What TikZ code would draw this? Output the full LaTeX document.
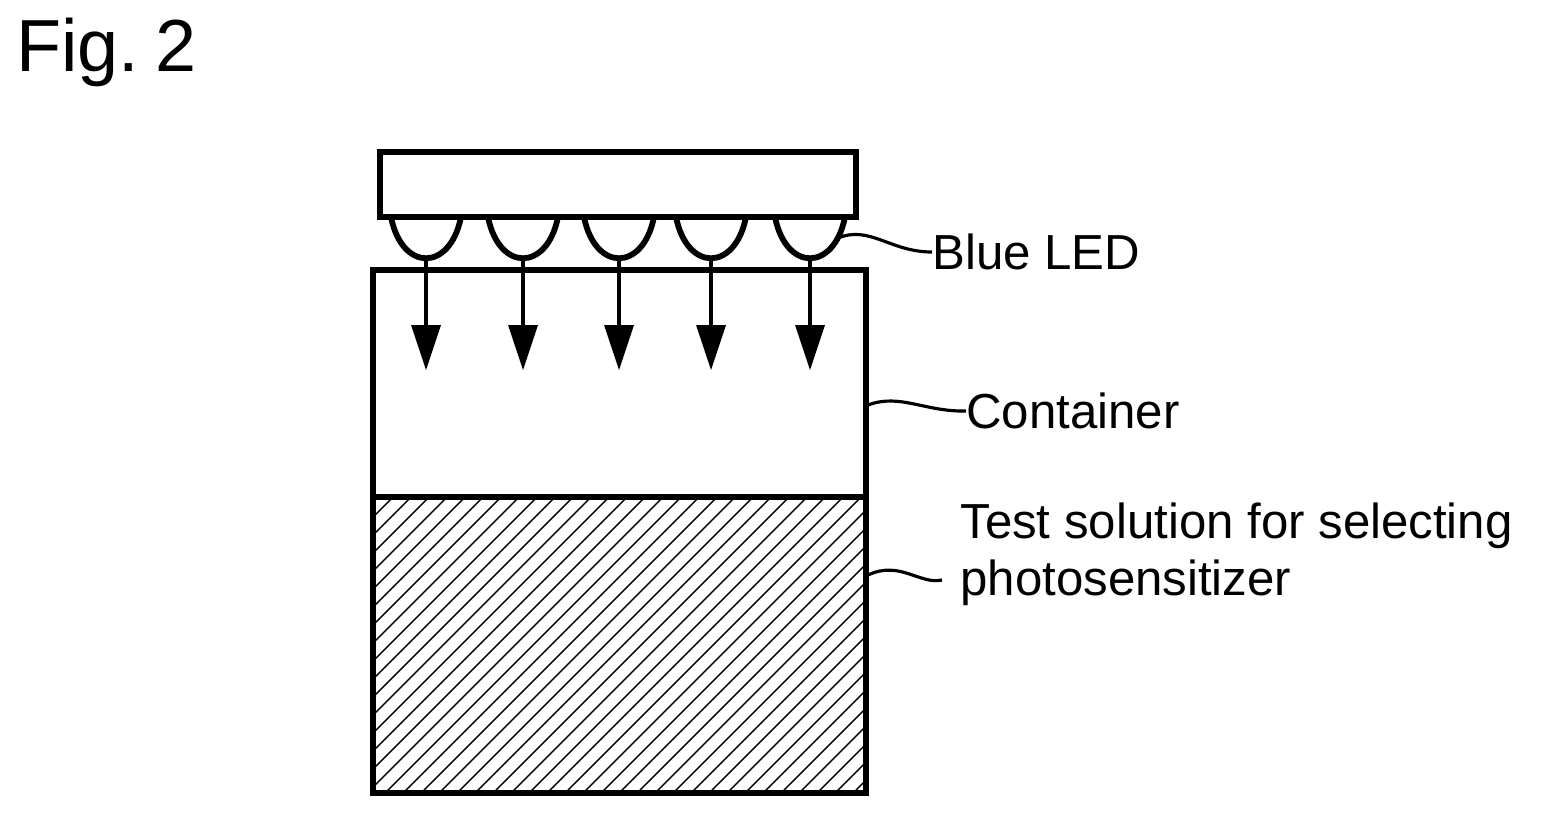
\documentclass[tikz,border=0pt]{standalone}
\usepackage{fontspec}
\setmainfont{Liberation Sans}
\begin{document}
\begin{tikzpicture}[x=0.02cm,y=-0.02cm,
  heavy/.style={line width=3.3pt},
  lead/.style={line width=1.8pt},
  lbl/.style={anchor=west,inner sep=0pt,font=\fontsize{28}{33}\selectfont}]
\useasboundingbox (0,0) rectangle (1542,816);
\node[anchor=north west,inner sep=0pt,font=\fontsize{42}{50}\selectfont] (fig) at (16,18) {Fig.\hspace{0.22em}2};
% hatch
\begin{scope}
\clip (373,497) rectangle (866,793);
\foreach \c in {800,818,...,1700} \draw[line width=0.8pt] (\c-793,793) -- (\c-497,497);
\end{scope}
\draw[heavy] (380,152) rectangle (856,217);
\draw[heavy] (373,270) rectangle (866,793);
\draw[heavy] (373,497) -- (866,497);
\foreach \x [count=\i] in {426,523,619,711,810} {
  \draw[heavy] (\x-35,217) .. controls (\x-24,272) and (\x+24,272) .. (\x+35,217);
  \coordinate (s\i) at (\x,258);
  \coordinate (t\i) at (\x,370);
  \draw[line width=2.2pt] (s\i) -- (\x,330);
  \fill (\x-15,325) -- (\x+15,325) -- (t\i) -- cycle;
}
\node[lbl] (led) at (932,252) {Blue LED};
\node[lbl] (cont) at (966,411) {Container};
\node[lbl,align=left,anchor=north west] (ts) at (960,502) {Test solution for selecting\\photosensitizer};
\draw[lead] (838,238) .. controls (870,225) and (890,252) .. (led.west);
\draw[lead] (868,405) .. controls (900,393) and (925,412) .. (cont.west);
\draw[lead] (868,575) .. controls (900,560) and (920,585) .. (942,580);
\end{tikzpicture}
\end{document}
